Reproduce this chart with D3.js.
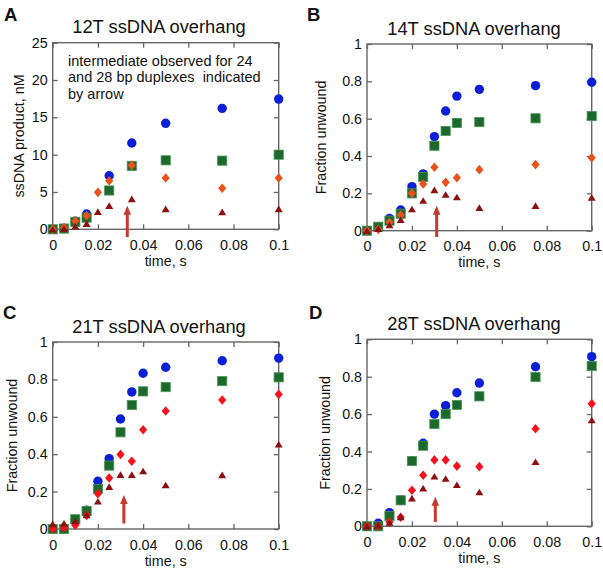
<!DOCTYPE html>
<html><head><meta charset="utf-8">
<script src="https://cdn.jsdelivr.net/npm/d3@7"></script>
<style>
html,body{margin:0;padding:0;background:#fff;}
svg{display:block;font-family:"Liberation Sans",Arial,Helvetica,sans-serif;}
</style></head>
<body>
<svg id="chart" width="603" height="570"></svg>
<script>
// ---------- data ----------
const timesA = [0, 0.005, 0.01, 0.015, 0.02, 0.025, 0.035, 0.05, 0.075, 0.1];
const blueA   = [0, 0.1, 1.1, 2.05, null, 7.18, 11.56, 14.2, 16.2, 17.45];
const greenA  = [0, 0.1, 1.0, 1.56, null, 5.2, 8.5, 9.24, 9.2, 10.0];
const diamA   = [0, 0.25, 1.11, 1.83, 4.95, 6.5, 8.57, 6.87, 5.49, 6.87];
const triA    = [0, 0.1, 0.4, 0.75, 2.36, 3.16, 4.06, 2.72, 2.32, 2.72];

const times = [0, 0.005, 0.01, 0.015, 0.02, 0.025, 0.03, 0.035, 0.04, 0.05, 0.075, 0.1];
const blueB  = [0, 0.02, 0.066, 0.111, 0.236, 0.304, 0.504, 0.641, 0.721, 0.757, 0.777, 0.795];
const greenB = [0, 0.021, 0.054, 0.091, 0.2, 0.288, 0.455, 0.534, 0.577, 0.582, 0.602, 0.614];
const diamB  = [0, 0.007, 0.045, 0.084, 0.2, 0.25, 0.34, 0.259, 0.284, 0.327, 0.354, 0.391];
const triB   = [0, 0.01, 0.03, 0.059, 0.116, 0.161, 0.218, 0.193, 0.18, 0.123, 0.134, 0.177];

const blueC  = [0, 0, 0.05, 0.1, 0.255, 0.376, 0.588, 0.733, 0.833, 0.865, 0.9, 0.914];
const greenC = [0, 0, 0.052, 0.096, 0.214, 0.339, 0.517, 0.663, 0.736, 0.759, 0.791, 0.811];
const diamC  = [0, 0.005, 0.02, 0.073, 0.189, 0.273, 0.399, 0.362, 0.531, 0.631, 0.69, 0.72];
const triC   = [0.027, 0.03, 0.043, 0.075, 0.148, 0.226, 0.29, 0.29, 0.31, 0.235, 0.289, 0.453];

const blueD  = [0, 0.016, 0.073, 0.14, 0.35, 0.444, 0.6, 0.645, 0.714, 0.766, 0.853, 0.907];
const greenD = [0, 0, 0.055, 0.139, 0.349, 0.431, 0.547, 0.6, 0.649, 0.695, 0.798, 0.857];
const diamD  = [0, 0, 0.023, 0.048, 0.193, 0.273, 0.355, 0.355, 0.322, 0.319, 0.522, 0.656];
const triD   = [0, 0.005, 0.02, 0.05, 0.15, 0.203, 0.267, 0.255, 0.222, 0.183, 0.345, 0.568];

const xTicks = [0, 0.02, 0.04, 0.06, 0.08, 0.1];
const xTickLabels = ["0", "0.02", "0.04", "0.06", "0.08", "0.1"];
const yTicksA = [0, 5, 10, 15, 20, 25];
const yTickLabelsA = ["0", "5", "10", "15", "20", "25"];
const yTicksF = [0, 0.2, 0.4, 0.6, 0.8, 1];
const yTickLabelsF = ["0", "0.2", "0.4", "0.6", "0.8", "1"];

const titles = ["12T ssDNA overhang", "14T ssDNA overhang", "21T ssDNA overhang", "28T ssDNA overhang"];
const letters = ["A", "B", "C", "D"];
const yLabels = ["ssDNA product, nM", "Fraction unwound", "Fraction unwound", "Fraction unwound"];
const arrowTimes = [0.033, 0.031, 0.0315, 0.0304];
const noteLines = ["intermediate observed for 24", "and 28 bp duplexes  indicated", "by arrow"];

// ---------- layout ----------
const panels = [
  {L:52.7, R:278.7, T:42.7, B:229.3, ymax:25, yt:yTicksA, ytl:yTickLabelsA, t:timesA,
   s:[blueA, greenA, diamA, triA], diamColor:"#e8521c", tcx:159, ylx:18.5, letX:4, letY:21,
   arrow:{tip:205.7, base:237}},
  {L:367, R:591.7, T:44, B:230.7, ymax:1, yt:yTicksF, ytl:yTickLabelsF, t:times,
   s:[blueB, greenB, diamB, triB], diamColor:"#e8521c", tcx:474, ylx:321, letX:307, letY:21,
   arrow:{tip:205.7, base:237}},
  {L:52.7, R:278.7, T:342, B:529, ymax:1, yt:yTicksF, ytl:yTickLabelsF, t:times,
   s:[blueC, greenC, diamC, triC], diamColor:"#f5141e", tcx:159, ylx:12, letX:3, letY:319,
   arrow:{tip:495, base:523.5}},
  {L:367, R:591.7, T:339.3, B:526.3, ymax:1, yt:yTicksF, ytl:yTickLabelsF, t:times,
   s:[blueD, greenD, diamD, triD], diamColor:"#f5141e", tcx:474, ylx:325, letX:309, letY:319,
   arrow:{tip:496.7, base:522}}
];

const svg = d3.select("#chart");
const frameColor = "#666";

panels.forEach((p, i) => {
  const x = d3.scaleLinear().domain([0, 0.1]).range([p.L, p.R]);
  const y = d3.scaleLinear().domain([0, p.ymax]).range([p.B, p.T]);
  const g = svg.append("g");

  // axes
  const fmtX = d => xTickLabels[xTicks.indexOf(d)];
  const fmtY = d => p.ytl[p.yt.indexOf(d)];
  const ax = [
    g.append("g").attr("transform", `translate(0,${p.B})`)
      .call(d3.axisBottom(x).tickValues(xTicks).tickFormat(fmtX).tickSize(-5).tickPadding(10.5)),
    g.append("g").attr("transform", `translate(0,${p.T})`)
      .call(d3.axisTop(x).tickValues(xTicks).tickFormat("").tickSize(-5)),
    g.append("g").attr("transform", `translate(${p.L},0)`)
      .call(d3.axisLeft(y).tickValues(p.yt).tickFormat(fmtY).tickSize(-5).tickPadding(5)),
    g.append("g").attr("transform", `translate(${p.R},0)`)
      .call(d3.axisRight(y).tickValues(p.yt).tickFormat("").tickSize(-5))
  ];
  ax.forEach(a => {
    a.select(".domain").remove();
    a.selectAll(".tick line").attr("stroke", frameColor).attr("stroke-width", 1.3);
    a.selectAll(".tick text").attr("fill", "#111").style("font-size", "14.3px")
      .style("font-family", '"Liberation Sans",Arial,sans-serif');
  });
  g.append("rect").attr("x", p.L).attr("y", p.T).attr("width", p.R - p.L).attr("height", p.B - p.T)
    .attr("fill", "none").attr("stroke", frameColor).attr("stroke-width", 1.4);

  // labels
  g.append("text").attr("x", p.tcx).attr("y", p.T - 9.4).attr("text-anchor", "middle")
    .style("font-size", "18.3px").attr("fill", "#111").text(titles[i]);
  g.append("text").attr("x", p.letX).attr("y", p.letY)
    .style("font-size", "18.5px").style("font-weight", "bold").attr("fill", "#111").text(letters[i]);
  g.append("text").attr("x", (p.L + p.R) / 2).attr("y", p.B + 36.5).attr("text-anchor", "middle")
    .style("font-size", "14.3px").attr("fill", "#111").text("time, s");
  g.append("text").attr("transform", `translate(${p.ylx},${(p.T + p.B) / 2}) rotate(-90)`)
    .attr("text-anchor", "middle").attr("dy", "0.35em")
    .style("font-size", "14.3px").attr("fill", "#111").text(yLabels[i]);

  // arrow
  const ax0 = x(arrowTimes[i]);
  const arrowColor = "#c8392f";
  g.append("line").attr("x1", ax0).attr("x2", ax0).attr("y1", p.arrow.base).attr("y2", p.arrow.tip + 7)
    .attr("stroke", arrowColor).attr("stroke-width", 3);
  g.append("path").attr("d", `M${ax0},${p.arrow.tip} L${ax0 - 3.8},${p.arrow.tip + 9} L${ax0 + 3.8},${p.arrow.tip + 9} Z`)
    .attr("fill", arrowColor);

  // series
  const pts = (arr) => p.t.map((t, k) => ({t, v: arr[k]})).filter(d => d.v !== null);
  g.selectAll(".blue").data(pts(p.s[0])).join("circle")
    .attr("cx", d => x(d.t)).attr("cy", d => y(d.v)).attr("r", 4.7).attr("fill", "#0b1fd6");
  g.selectAll(".green").data(pts(p.s[1])).join("rect")
    .attr("x", d => x(d.t) - 4.6).attr("y", d => y(d.v) - 4.6).attr("width", 9.2).attr("height", 9.2)
    .attr("fill", "#1b6a2b").attr("stroke", "#4c9656").attr("stroke-width", 0.8);
  g.selectAll(".diam").data(pts(p.s[2])).join("path")
    .attr("d", d => { const cx = x(d.t), cy = y(d.v);
      return `M${cx},${cy - 4.8} L${cx + 4.1},${cy} L${cx},${cy + 4.8} L${cx - 4.1},${cy} Z`; })
    .attr("fill", p.diamColor);
  g.selectAll(".tri").data(pts(p.s[3])).join("path")
    .attr("d", d => { const cx = x(d.t), cy = y(d.v);
      return `M${cx},${cy - 3.4} L${cx + 4},${cy + 3.2} L${cx - 4},${cy + 3.2} Z`; })
    .attr("fill", "#8c1010");

  if (i === 0) {
    const note = g.append("text").style("font-size", "14.5px").attr("fill", "#111")
      .attr("xml:space", "preserve").style("white-space", "pre");
    noteLines.forEach((ln, k) => {
      note.append("tspan").attr("x", 68).attr("y", 66 + k * 16.3).text(ln);
    });
  }
});
</script>
</body></html>
